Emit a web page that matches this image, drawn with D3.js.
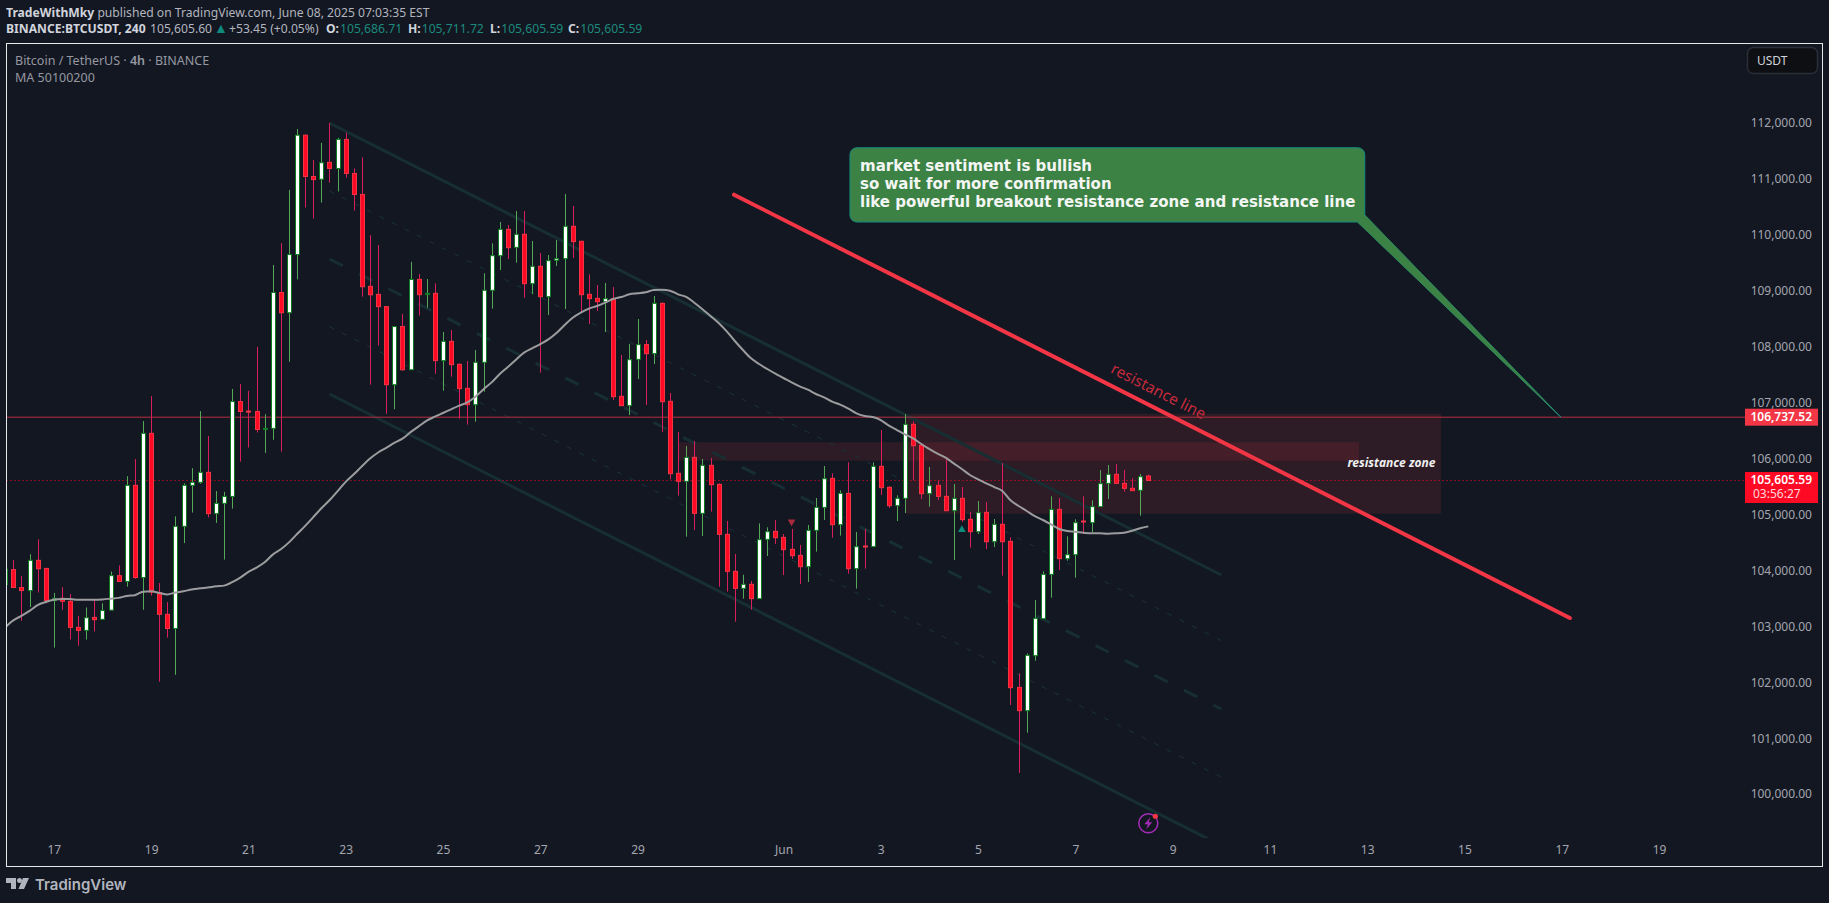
<!DOCTYPE html>
<html>
<head>
<meta charset="utf-8">
<title>BTCUSDT 4h</title>
<script src="https://cdn.jsdelivr.net/npm/d3@7"></script>
<style>
	html, body { margin: 0; padding: 0; background: #131722; }
	svg { display: block; font-family: "Noto Sans", sans-serif; }
	.axis path, .axis line { display: none; }
	.axis text { fill: #a3a6af; font-size: 12px; font-family: "Noto Sans", sans-serif; }
</style>
</head>
<body>
<svg id="chart" width="1829" height="903"></svg>
<script>
'use strict';

// candles, 4h each
var opens = [103748,104014,103693,103638,104179,104035,103460,103501,103447,102981,102927,103159,103125,103289,103905,103802,105519,103871,106449,103604,103214,102961,104787,105519,105574,105752,105013,105198,105321,107017,106846,106839,106525,106538,108966,108604,109644,111778,111039,110991,111292,111183,111702,111094,110718,109076,108932,108713,107318,108358,107585,109201,108933,108951,107748,108093,107682,107253,106961,107718,109005,109624,110095,109773,110006,109124,109434,108891,109541,109571,110149,109881,108933,108862,108802,108856,107110,106943,107771,108034,107873,108772,107021,105734,105591,106020,105019,105877,105537,104643,103982,103678,103750,103494,104554,104697,104590,104376,104268,104065,104715,105126,105644,104816,105376,104030,104435,104423,105859,105484,105156,105287,106610,106234,105370,105519,105323,105066,105287,104912,104691,105037,104512,104822,104518,101909,101492,102475,103136,103928,105090,104208,104280,104882,104852,105138,105555,105716,105555,105466,105430,105686];
var highs = [104021,104185,103898,104288,104555,104035,103597,103700,103577,103187,103337,103467,103412,103980,104089,105683,105991,106668,107113,103775,103433,104965,105553,105827,106846,106401,105416,105403,107243,107332,107209,107995,106791,109459,109849,110800,111887,111791,111333,111641,111997,111730,111819,111183,111381,109992,109815,108713,108358,108583,109514,109297,109207,109130,108260,108296,107700,107742,107938,109309,109845,110226,110172,110423,110423,109886,109672,109636,109904,110727,110512,109892,109291,109100,109136,109064,107849,108045,108492,108117,108903,108790,107170,106473,106222,106312,105990,106008,105555,104882,104292,103922,103809,104840,104769,104900,104650,104739,104453,104810,105293,105865,105734,105430,105930,104685,104739,105930,106508,105507,105341,106794,106663,106240,105847,105609,106014,105543,105489,105043,105239,105221,104918,105918,104590,102159,102516,103470,103982,105323,105293,104608,104912,105323,105251,105793,105883,105901,105793,105644,105722,105712];
var lows = [103748,103693,103098,103344,103604,103412,102619,103296,102763,102653,102763,102906,103125,103289,103802,103707,103850,103296,103549,102010,102797,102133,104486,105033,105547,104945,104849,104192,105102,105943,106196,106463,106100,106333,106121,107728,109199,110485,110287,110574,110930,110772,111018,110430,108891,107318,108016,106798,106880,107571,107585,108552,108695,107515,107211,107461,106711,106604,106657,107193,108677,109368,109565,109499,108874,108939,107533,108564,109440,108671,109583,108600,108403,108635,108260,107045,106943,106776,107420,106955,107688,106473,105627,105335,104602,104721,104614,105049,103708,103619,103082,103494,103297,103494,104256,104471,103917,104203,103756,103792,104334,104900,104584,104620,103940,103672,104030,104423,105346,105114,104882,105025,105609,105275,105138,105257,105066,104185,104864,104405,104649,104381,104417,103905,101593,100378,101098,102385,103136,103511,104006,104173,103869,104649,104685,105138,105275,105555,105406,105424,104977,105606];
var closes = [104021,103693,103638,104179,104028,103460,103501,103447,102981,102927,103153,103118,103283,103905,103802,105519,103871,106449,103611,103214,102961,104787,105519,105574,105752,105013,105198,105321,107017,106839,106832,106518,106538,108966,108604,109644,111778,111039,110984,111285,111183,111702,111094,110718,109069,108925,108713,107318,108358,107585,109199,108927,108951,107748,108093,107676,107247,106961,107718,109005,109624,110095,109767,110006,109124,109434,108891,109535,109571,110149,109875,108927,108856,108802,108856,107104,106943,107765,108034,107873,108772,107015,105728,105591,106020,105019,105877,105531,104643,103982,103678,103750,103494,104548,104691,104584,104370,104262,104065,104715,105126,105638,104816,105376,104030,104423,104423,105859,105478,105156,105287,106610,106228,105370,105513,105323,105066,105287,104906,104691,105031,104512,104822,104512,101903,101492,102481,103142,103928,105090,104208,104280,104852,104870,105138,105549,105716,105555,105466,105424,105674,105606];
var maValues = [102981,103105,103187,103276,103378,103433,103474,103488,103488,103474,103474,103474,103481,103494,103508,103543,103556,103618,103625,103597,103570,103604,103625,103659,103679,103693,103714,103727,103789,103871,103973,104048,104144,104281,104377,104500,104650,104794,104951,105109,105252,105416,105581,105717,105861,105998,106107,106189,106278,106354,106470,106573,106675,106747,106812,106878,106943,107003,107104,107235,107360,107509,107634,107765,107891,107968,108045,108129,108242,108385,108516,108606,108677,108725,108784,108850,108886,108933,108951,108969,109011,109017,108999,108933,108886,108784,108665,108546,108421,108272,108099,107938,107789,107688,107599,107515,107438,107360,107289,107229,107152,107092,107015,106961,106890,106806,106759,106741,106687,106586,106508,106431,106359,106258,106169,106085,106014,105912,105811,105704,105626,105555,105489,105418,105251,105150,105061,104971,104900,104822,104739,104703,104691,104673,104661,104661,104655,104661,104673,104709,104751,104786];

var priceTicks = [100000,101000,102000,103000,104000,105000,106000,107000,108000,109000,110000,111000,112000];
var timeTickBars = [6,18,30,42,54,66,78,96,108,120,132,144,156,168,180,192,204];
var timeTickLabels = ['17','19','21','23','25','27','29','Jun','3','5','7','9','11','13','15','17','19'];

var lastPrice = 105605.59;
var alertPrice = 106737.52;

// drawing tools, as [bar, price] anchors
var channelUpper = [[40,111995],[150,103917]];
var channelMiddle = [[40,109565],[150,101522]];
var channelLower = [[40,107152],[150,99082]];
var channelQuarter = [[40,110780],[150,102745]];
var channelThreeQuarter = [[40,108357],[150,100305]];
var resistanceLine = [[89.9,110714],[193,103148]];
var zoneBig = [[111,106800],[177.1,105012]];
var zoneSmall = [[83.1,106289],[167,105960]];
var calloutBox = [[104.2,111554],[167.7,110226]];
var calloutTail = [[167.7,110351],[191.9,106737],[166.8,110226]];
var calloutLines = ['market sentiment is bullish','so wait for more confirmation','like powerful breakout resistance zone and resistance line'];
var signalDown = [97,104868];
var signalUp = [118,104726];
var earningsMark = [141,99480];

var headerOhlc = [['O:','105,686.71'],['H:','105,711.72'],['L:','105,605.59'],['C:','105,605.59']];
var headerOhlcX = [326,408,490,568];

var svg = d3.select('#chart');

var x = d3.scaleLinear().domain([0,141]).range([5.2,1148.3]);
var y = d3.scaleLinear().domain([107000,100000]).range([402.5,794.15]);

var pane = { left: 6.5, top: 43.5, right: 1822.5, bottom: 866.5, plotRight: 1745, plotBottom: 838 };

svg.append('rect').attr('width',1829).attr('height',903).attr('fill','#131722');

svg.append('clipPath').attr('id','plot').append('rect')
	.attr('x',pane.left).attr('y',pane.top)
	.attr('width',pane.plotRight - pane.left).attr('height',pane.plotBottom - pane.top);

var plot = svg.append('g').attr('clip-path','url(#plot)');

function drawRect(g, corners, fill) {
	g.append('rect')
		.attr('x',x(corners[0][0])).attr('y',y(corners[0][1]))
		.attr('width',x(corners[1][0]) - x(corners[0][0]))
		.attr('height',y(corners[1][1]) - y(corners[0][1]))
		.attr('fill',fill);
}

function drawSegment(g, pts, color, width, dash) {
	g.append('line')
		.attr('x1',x(pts[0][0])).attr('y1',y(pts[0][1]))
		.attr('x2',x(pts[1][0])).attr('y2',y(pts[1][1]))
		.attr('stroke',color).attr('stroke-width',width)
		.attr('stroke-dasharray',dash || null);
}

// zones
drawRect(plot, zoneBig, 'rgba(242,54,69,0.12)');
drawRect(plot, zoneSmall, 'rgba(242,54,69,0.12)');

// channel
drawSegment(plot, channelUpper, '#172e33', 3);
drawSegment(plot, channelLower, '#172e33', 3);
drawSegment(plot, channelMiddle, '#172e33', 3, '15 18');
drawSegment(plot, channelQuarter, '#1a3439', 1, '5 9');
drawSegment(plot, channelThreeQuarter, '#1a3439', 1, '5 9');

// price lines
plot.append('line').attr('x1',pane.left).attr('x2',pane.plotRight)
	.attr('y1',y(alertPrice)).attr('y2',y(alertPrice))
	.attr('stroke','#b8303f').attr('stroke-width',1);
plot.append('line').attr('x1',pane.left).attr('x2',pane.plotRight)
	.attr('y1',y(lastPrice)).attr('y2',y(lastPrice))
	.attr('stroke','#ff0a24').attr('stroke-width',1).attr('stroke-dasharray','1 3');

// candles
var bars = d3.range(opens.length).map(function(i) {
	return { i: i, o: opens[i], h: highs[i], l: lows[i], c: closes[i] };
});
var candle = plot.selectAll('g.candle').data(bars).enter().append('g').attr('class','candle');

candle.append('line')
	.attr('x1',function(d) { return Math.round(x(d.i)) + 0.5; })
	.attr('x2',function(d) { return Math.round(x(d.i)) + 0.5; })
	.attr('y1',function(d) { return y(d.h); })
	.attr('y2',function(d) { return y(d.l); })
	.attr('stroke',function(d) { return d.c >= d.o ? '#53a957' : '#d81e5b'; })
	.attr('stroke-width',1);

candle.append('rect')
	.attr('x',function(d) { return Math.round(x(d.i)) - 1.5; })
	.attr('width',4)
	.attr('y',function(d) { return y(Math.max(d.o,d.c)); })
	.attr('height',function(d) { return Math.max(1,Math.abs(y(d.o) - y(d.c))); })
	.attr('fill',function(d) { return d.c >= d.o ? '#ffffff' : '#ff0a24'; })
	.attr('stroke',function(d) { return d.c >= d.o ? '#0c7d1f' : '#f23645'; })
	.attr('stroke-width',1);

// moving average
var maLine = d3.line().x(function(d,i) { return x(i); }).y(function(d) { return y(d); }).curve(d3.curveMonotoneX);
plot.append('path').datum(maValues).attr('d',maLine)
	.attr('fill','none').attr('stroke','#9c9c9f').attr('stroke-width',2);

// signal marks
function triangle(point, up, color) {
	var cx = x(point[0]), cy = y(point[1]);
	plot.append('path')
		.attr('d',d3.symbol().type(d3.symbolTriangle).size(26))
		.attr('transform','translate(' + cx + ',' + cy + ') rotate(' + (up ? 0 : 180) + ')')
		.attr('fill',color);
}
triangle(signalDown, false, '#a82a3c');
triangle(signalUp, true, '#0f8a7c');

// earnings style mark
var ex = x(earningsMark[0]), ey = y(earningsMark[1]);
plot.append('circle').attr('cx',ex).attr('cy',ey).attr('r',9.5)
	.attr('fill','none').attr('stroke','#a02cb4').attr('stroke-width',1.6);
plot.append('path')
	.attr('transform','translate(' + ex + ',' + ey + ')')
	.attr('d','M2,-6 L-4,1 L-0.5,1 L-2,6 L4,-1 L0.5,-1 Z')
	.attr('fill','#a02cb4');
plot.append('circle').attr('cx',ex + 7).attr('cy',ey - 7).attr('r',2.6).attr('fill','#f23645');

// resistance line and labels
plot.append('line')
	.attr('x1',x(resistanceLine[0][0])).attr('y1',y(resistanceLine[0][1]))
	.attr('x2',x(resistanceLine[1][0])).attr('y2',y(resistanceLine[1][1]))
	.attr('stroke','#f23645').attr('stroke-width',4).attr('stroke-linecap','round');

plot.append('text')
	.attr('transform','translate(1156,396) rotate(27)')
	.attr('text-anchor','middle').attr('font-size',15.5)
	.attr('fill','#c32a3c').text('resistance line');

plot.append('text')
	.attr('x',1391.5).attr('y',467).attr('text-anchor','middle')
	.attr('font-size',12).attr('font-weight',700).attr('font-style','italic')
	.attr('fill','#f0f0f0').text('resistance zone');

// callout
var tailPath = d3.line().x(function(d) { return x(d[0]); }).y(function(d) { return y(d[1]); });
plot.append('path').datum(calloutTail).attr('d',tailPath)
	.attr('fill','#3c8245').attr('stroke','#178a80').attr('stroke-width',1);
plot.append('rect')
	.attr('x',x(calloutBox[0][0])).attr('y',y(calloutBox[0][1]))
	.attr('width',x(calloutBox[1][0]) - x(calloutBox[0][0]))
	.attr('height',y(calloutBox[1][1]) - y(calloutBox[0][1]))
	.attr('rx',7).attr('fill','#3c8245').attr('stroke','#178a80').attr('stroke-width',1);
plot.append('path').datum(calloutTail).attr('d',tailPath).attr('fill','#3c8245');

plot.selectAll('text.callout').data(calloutLines).enter().append('text')
	.attr('class','callout')
	.attr('x',860).attr('y',function(d,i) { return 171 + i * 18; })
	.attr('font-family','"DejaVu Sans", sans-serif')
	.attr('font-size',15).attr('font-weight',700).attr('fill','#f4f6f4')
	.text(function(d) { return d; });

// pane frame
svg.append('rect')
	.attr('x',pane.left).attr('y',pane.top)
	.attr('width',pane.right - pane.left).attr('height',pane.bottom - pane.top)
	.attr('fill','none').attr('stroke','#e6e8ea').attr('stroke-width',1);

// axes
var yAxis = d3.axisRight(y).tickValues(priceTicks).tickFormat(d3.format(',.2f')).tickSize(0).tickPadding(0);
svg.append('g').attr('class','axis').attr('transform','translate(1812,0)').call(yAxis)
	.selectAll('text').attr('text-anchor','end');

var xAxis = d3.axisBottom(x).tickValues(timeTickBars)
	.tickFormat(function(d,i) { return timeTickLabels[i]; }).tickSize(0).tickPadding(0);
svg.append('g').attr('class','axis').attr('transform','translate(0,845)').call(xAxis);

// price labels on the scale
function priceTag(top, height, color) {
	svg.append('rect').attr('x',1745).attr('y',top).attr('width',73).attr('height',height).attr('fill',color);
}
priceTag(y(alertPrice) - 8.5, 17, '#f23645');
svg.append('text').attr('x',1812).attr('y',y(alertPrice) + 4).attr('text-anchor','end')
	.attr('font-size',12).attr('font-weight',600).attr('fill','#ffffff').text(d3.format(',.2f')(alertPrice));
priceTag(y(lastPrice) - 8.5, 31, '#ff0a24');
svg.append('text').attr('x',1812).attr('y',y(lastPrice) + 3.5).attr('text-anchor','end')
	.attr('font-size',12).attr('font-weight',600).attr('fill','#ffffff').text(d3.format(',.2f')(lastPrice));
svg.append('text').attr('x',1753).attr('y',y(lastPrice) + 17.5)
	.attr('font-size',12).attr('fill','#ffd7dc').text('03:56:27');

// currency button
svg.append('rect').attr('x',1747.5).attr('y',47.5).attr('width',70).attr('height',26).attr('rx',6)
	.attr('fill','#0e0f12').attr('stroke','#2a2e39').attr('stroke-width',1.5);
svg.append('text').attr('x',1757).attr('y',65).attr('font-size',12).attr('fill','#d1d4dc').text('USDT');

// header
var line1 = svg.append('text').attr('x',6).attr('y',17).attr('font-size',12.15).attr('fill','#b2b5be');
line1.append('tspan').attr('font-weight',700).attr('fill','#d1d4dc').text('TradeWithMky');
line1.append('tspan').text(' published on TradingView.com, June 08, 2025 07:03:35 EST');

var line2 = svg.append('text').attr('x',6).attr('y',33).attr('font-size',12.15).attr('fill','#b2b5be');
line2.append('tspan').attr('font-weight',700).attr('fill','#d1d4dc').text('BINANCE:BTCUSDT, 240');
line2.append('tspan').attr('x',150).text('105,605.60');
line2.append('tspan').attr('x',214).attr('font-size',14).attr('fill','#0f8a7c').text('\u25B2');
line2.append('tspan').attr('x',229).text('+53.45 (+0.05%)');
headerOhlc.forEach(function(pair, i) {
	line2.append('tspan').attr('x',headerOhlcX[i]).attr('font-weight',700).attr('fill','#d1d4dc').text(pair[0]);
	line2.append('tspan').attr('dx',1).attr('fill','#1b8a7c').text(pair[1]);
});

var legend1 = svg.append('text').attr('x',15).attr('y',64.5).attr('font-size',12.5).attr('fill','#9598a1');
legend1.append('tspan').text('Bitcoin / TetherUS \u00B7 ');
legend1.append('tspan').attr('font-weight',600).text('4h');
legend1.append('tspan').text(' \u00B7 BINANCE');
svg.append('text').attr('x',15).attr('y',81.5).attr('font-size',12.5).attr('fill','#9598a1')
	.text('MA 50100200');

// logo
var logo = svg.append('g').attr('transform','translate(6,878)').attr('fill','#b2b5be');
logo.append('path').attr('d','M0,0 H10 V11 H5 V5 H0 Z');
logo.append('circle').attr('cx',13.5).attr('cy',2.5).attr('r',2.5);
logo.append('path').attr('d','M17,0 H23 L18,11 H12.5 Z');
svg.append('text').attr('x',35).attr('y',890).attr('font-family','Inter, sans-serif')
	.attr('font-size',15).attr('font-weight',600).attr('fill','#b2b5be').text('TradingView');
</script>
</body>
</html>
